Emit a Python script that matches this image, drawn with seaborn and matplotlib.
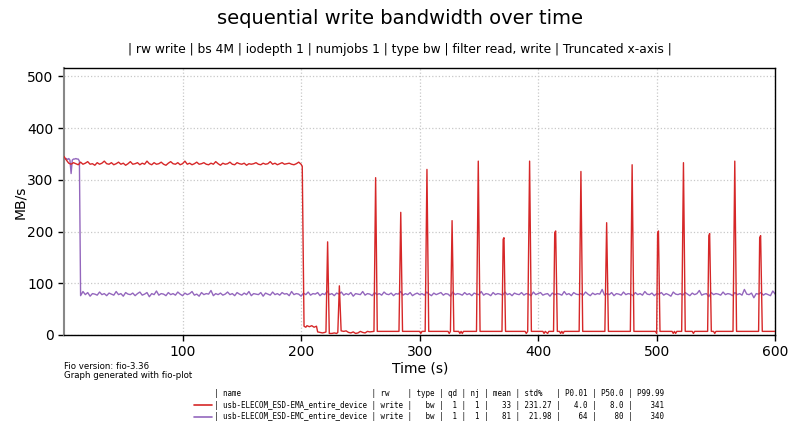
import numpy as np
import pandas as pd
import seaborn as sns
import matplotlib.pyplot as plt
from matplotlib.lines import Line2D

# --- data ---
series_names = ["usb-ELECOM_ESD-EMA_entire_device", "usb-ELECOM_ESD-EMC_entire_device"]
series_colors = ["#d62728", "#9467bd"]

# red (EMA): steady part sampled every 2 s, t = 0..200
ema_head_bw = [
    345, 338, 332, 330, 333, 331, 329, 334, 330, 332, 335, 330, 331, 328, 333, 330, 332, 336, 331, 330,
    333, 329, 331, 334, 330, 332, 328, 331, 335, 330, 331, 333, 329, 332, 330, 336, 331, 329, 333, 330,
    331, 334, 330, 328, 332, 335, 331, 330, 333, 329, 331, 336, 330, 332, 329, 331, 334, 330, 331, 333,
    330, 329, 332, 330, 335, 331, 328, 332, 330, 331, 334, 330, 329, 333, 331, 330, 332, 328, 331, 330,
    331, 333, 330, 329, 332, 330, 331, 335, 330, 332, 329, 331, 333, 330, 331, 332, 330, 329, 331, 334,
    330,
]
# red (EMA): after the cache runs out, vertices of the line
ema_tail_time = [
    201, 202.5, 204, 205, 207, 209, 211, 213, 214, 216, 218, 220, 221, 222.4, 223.8, 226, 228, 230, 231,
    232.3, 233.8, 236, 238, 240, 242, 244, 246, 248, 250, 252, 254, 256, 258, 261.5, 262.9, 264.3,
    282.6, 284.1, 285.6, 300, 301, 302, 304.7, 306.2, 307.7, 324, 325, 326, 327.4, 328.9, 333, 334,
    335, 336, 337, 348, 349.5, 351, 369.5, 370.5, 371.2, 372.5, 389, 390, 391.2, 392.8, 394.3, 404,
    405, 406, 408, 409, 413, 414, 414.8, 416.2, 418, 419, 420, 421, 422, 434.6, 436.1, 437.6, 456.3,
    457.8, 459.3, 477.8, 479.3, 480.8, 499, 500, 500.8, 501.5, 502.8, 513, 514, 515, 516, 517, 521.1,
    522.6, 524.1, 530, 531, 532, 543, 544, 544.7, 546.1, 548, 549, 550, 564.4, 565.9, 567.4, 586,
    586.9, 587.7, 589.1, 600,
]
ema_tail_bw = [
    326, 17, 15, 18, 16, 18, 15, 17, 6, 5, 4, 5, 6, 180, 3, 3, 4, 3, 5,
    95, 8, 7, 8, 5, 4, 6, 3, 4, 7, 5, 4, 7, 6, 7, 304, 7,
    7, 237, 7, 7, 3, 7, 7, 320, 7, 7, 3, 7, 221, 7, 7, 3,
    7, 3, 7, 7, 336, 7, 7, 185, 188, 7, 7, 3, 7, 336, 7, 7,
    3, 7, 3, 7, 7, 198, 201, 7, 7, 3, 7, 3, 7, 7, 316, 7, 7,
    217, 7, 7, 329, 7, 7, 3, 196, 201, 7, 7, 3, 7, 3, 7, 7,
    333, 7, 7, 3, 7, 7, 192, 196, 7, 7, 3, 7, 7, 336, 7, 7,
    188, 192, 7, 7,
]

# purple (EMC): first seconds sampled every 1 s (t = 0..13)
emc_head_bw = [341, 340, 341, 339, 341, 338, 312, 338, 340, 340, 341, 340, 340, 336]
# purple (EMC): rest sampled every 2 s (t = 14..600)
emc_body_bw = [
    76, 84, 78, 82, 75, 80, 79, 77, 83, 78, 80, 76, 81, 79, 77, 84, 78, 80, 75, 82, 79,
    78, 81, 76, 80, 83, 77, 79, 82, 74, 80, 78, 85, 77, 80, 79, 76, 82, 78, 80, 77, 83,
    79, 76, 81, 78, 80, 84, 77, 79, 75, 82, 78, 80, 79, 86, 76, 80, 78, 81, 77, 79, 83,
    78, 80, 76, 82, 79, 77, 81, 78, 84, 76, 80, 79, 78, 82, 75, 81, 79, 77, 83, 78, 80,
    77, 82, 79, 80, 76, 84, 78, 80, 79, 75, 81, 78, 83, 77, 80, 79, 82, 76, 80, 78, 85,
    78, 80, 76, 81, 79, 83, 77, 80, 78, 82, 75, 80, 79, 78, 84, 77, 80, 79, 76, 82, 78,
    80, 77, 83, 79, 78, 81, 76, 80, 79, 84, 77, 80, 78, 82, 76, 79, 81, 78, 80, 77, 83,
    79, 76, 81, 78, 80, 82, 77, 80, 79, 75, 83, 78, 80, 79, 77, 82, 78, 80, 76, 81, 79,
    78, 84, 77, 80, 79, 76, 82, 78, 80, 79, 77, 83, 78, 80, 76, 81, 79, 78, 82, 77, 80,
    79, 76, 83, 78, 80, 82, 77, 79, 80, 75, 81, 78, 80, 79, 77, 84, 78, 80, 76, 82, 79,
    78, 80, 77, 83, 79, 76, 81, 78, 80, 79, 88, 77, 80, 78, 82, 76, 80, 79, 77, 83, 78,
    80, 79, 76, 82, 78, 80, 77, 84, 79, 78, 81, 76, 80, 79, 82, 77, 80, 78, 75, 83, 79,
    78, 80, 77, 82, 79, 76, 81, 78, 80, 86, 77, 79, 80, 74, 82, 78, 80, 79, 77, 83, 78,
    80, 79, 76, 82, 78, 80, 77, 88, 79, 78, 81, 72, 80, 79, 82, 77, 80, 78, 76, 85, 79,
]

# legend table
table_rw = ["write", "write"]
table_type = ["bw", "bw"]
table_qd = [1, 1]
table_nj = [1, 1]
table_mean = [33, 81]
table_std = ["231.27", "21.98"]
table_p001 = ["4.0", "64"]
table_p50 = ["8.0", "80"]
table_p9999 = [341, 340]

title = "sequential write bandwidth over time"
subtitle = "| rw write | bs 4M | iodepth 1 | numjobs 1 | type bw | filter read, write | Truncated x-axis |"

# --- build frames ---
ema_time = list(np.arange(0, 201, 2)) + ema_tail_time
ema_bw = ema_head_bw + ema_tail_bw
emc_time = list(np.arange(0, 14)) + list(14 + 2 * np.arange(len(emc_body_bw)))
emc_bw = emc_head_bw + emc_body_bw

df_ema = pd.DataFrame({"time": ema_time, "bw": ema_bw})
df_emc = pd.DataFrame({"time": emc_time, "bw": emc_bw})

sns.set_style("white")
plt.rcParams["font.family"] = ["DejaVu Sans"]
plt.rcParams["text.color"] = "black"

fig = plt.figure(figsize=(8, 4.44), dpi=100)
ax = fig.add_axes([0.08, 0.2455, 0.889, 0.6014])

sns.lineplot(data=df_ema, x="time", y="bw", ax=ax, color=series_colors[0],
             linewidth=1.0, estimator=None, sort=False, zorder=3)
sns.lineplot(data=df_emc, x="time", y="bw", ax=ax, color=series_colors[1],
             linewidth=1.0, estimator=None, sort=False, zorder=2)

ax.set_xlim(0, 600)
ax.set_ylim(0, 516)
ax.set_xticks([100, 200, 300, 400, 500, 600])
ax.set_yticks([0, 100, 200, 300, 400, 500])
ax.grid(True, linestyle=":", color="#c8c8c8", linewidth=0.9)
ax.tick_params(axis="both", labelsize=10, length=4, width=1, direction="out",
               bottom=True, left=True, colors="black")
for side in ["top", "right", "bottom"]:
    ax.spines[side].set_color("black")
    ax.spines[side].set_linewidth(1.0)
ax.spines["left"].set_color("#888888")
ax.spines["left"].set_linewidth(1.5)
ax.set_xlabel("")
ax.set_ylabel("")

fig.text(0.5, 1 - 18 / 444, title, ha="center", va="center", fontsize=14, color="black")
fig.text(0.5, 1 - 50 / 444, subtitle, ha="center", va="center", fontsize=8.8, color="black")
fig.text(420 / 800, 1 - 368 / 444, "Time (s)", ha="center", va="center", fontsize=10, color="black")
fig.text(20 / 800, 1 - 202 / 444, "MB/s", ha="center", va="center", rotation=90, fontsize=10, color="black")
fig.text(64 / 800, 1 - 366 / 444, "Fio version: fio-3.36", ha="left", va="center", fontsize=6.2, color="black")
fig.text(64 / 800, 1 - 375 / 444, "Graph generated with fio-plot", ha="left", va="center", fontsize=6.2, color="black")

# legend as a small monospace table
header = (f"| {'name':<32} | {'rw':<5} | {'type':<4} | {'qd':<2} | {'nj':<2} | {'mean':<4} "
          f"| {'std%':<6} | {'P0.01':<5} | {'P50.0':<5} | {'P99.99':<6}")
rows = []
for i in range(len(series_names)):
    rows.append(f"| {series_names[i]:<32} | {table_rw[i]:<5} | {table_type[i]:>4} | {table_qd[i]:>2} "
                f"| {table_nj[i]:>2} | {table_mean[i]:>4} | {table_std[i]:>6} | {table_p001[i]:>5} "
                f"| {table_p50[i]:>5} | {table_p9999[i]:>6}")
handles = [Line2D([], [], color="none")] + [Line2D([], [], color=c, linewidth=1.2) for c in series_colors]
fig.legend(handles, [header] + rows, loc="center", bbox_to_anchor=(429 / 800, 1 - 405 / 444),
           frameon=False, prop={"family": "DejaVu Sans Mono", "size": 5.45},
           handlelength=2.4, handletextpad=0.3, labelspacing=0.35, labelcolor="black")

fig.savefig("out.png", dpi=100)
